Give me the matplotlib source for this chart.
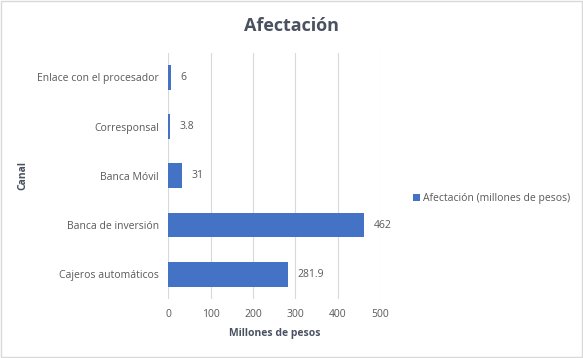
import matplotlib
matplotlib.use("Agg")
import matplotlib.pyplot as plt
from matplotlib.patches import Rectangle

categories = ["Cajeros automáticos", "Banca de inversión", "Banca Móvil", "Corresponsal", "Enlace con el procesador"]
values = [281.9, 462, 31, 3.8, 6]
labels = ["281.9", "462", "31", "3.8", "6"]
xticks = [0, 100, 200, 300, 400, 500]
series_name = "Afectación (millones de pesos)"

plt.rcParams['font.family'] = ['Open Sans', 'DejaVu Sans']
txt = "#595959"
title_c = "#4A5261"
bar_color = "#4472C4"

fig = plt.figure(figsize=(5.83, 3.58), dpi=100)
fig.patches.append(Rectangle((0.002, 0.003), 0.996, 0.994, transform=fig.transFigure,
                             fill=False, edgecolor="#D9D9D9", linewidth=1))
ax = fig.add_axes([0.289, 0.165, 0.363, 0.688])
bars = ax.barh(range(len(categories)), values, height=0.5, color=bar_color, label=series_name, zorder=3)
ax.set_xlim(0, 500)
ax.set_ylim(-0.5, len(categories) - 0.5)
ax.set_yticks(range(len(categories)))
ax.set_yticklabels(categories, fontsize=7.5, color=txt)
ax.set_xticks(xticks)
ax.set_xticklabels([str(t) for t in xticks], fontsize=7.5, color=txt)
ax.tick_params(axis='both', length=0, pad=7)
ax.grid(axis='x', color="#D9D9D9", linewidth=0.8, zorder=0)
for s in ax.spines.values():
    s.set_visible(False)
for i, (v, lab) in enumerate(zip(values, labels)):
    ax.annotate(lab, (v, i), xytext=(7, 0), textcoords='offset points', va='center', ha='left',
                fontsize=7.5, color=txt)
ax.set_xlabel("Millones de pesos", fontsize=7.5, fontweight='bold', color=title_c, labelpad=6)
ax.set_ylabel("Canal", fontsize=7.5, fontweight='bold', color=title_c)
ax.yaxis.set_label_coords(-0.66, 0.5)
fig.text(0.5, 0.928, "Afectación", ha='center', va='center', fontsize=13, fontweight='bold', color=title_c)
fig.legend(handles=[bars], labels=[series_name], loc='center left', bbox_to_anchor=(0.692, 0.445),
           frameon=False, fontsize=7.5, handlelength=0.7, handleheight=0.7, handletextpad=0.3,
           labelcolor=txt)
fig.savefig("out.png", dpi=100)
